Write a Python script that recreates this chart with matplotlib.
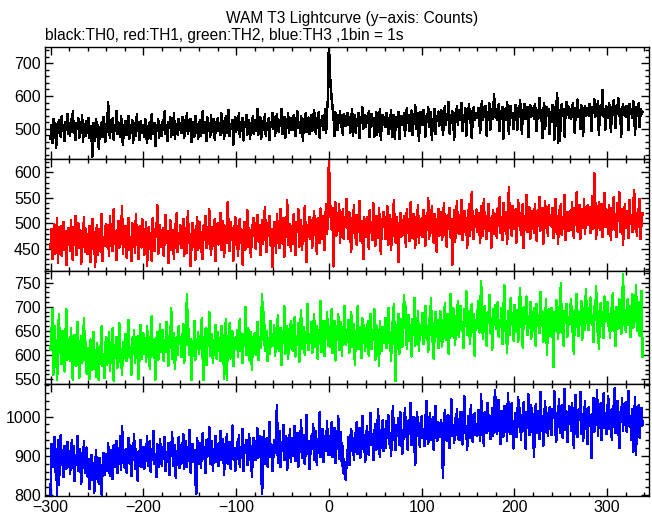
import matplotlib
matplotlib.use("Agg")
import matplotlib.pyplot as plt
import numpy as np
from matplotlib.ticker import MultipleLocator

plt.rcParams['font.family'] = ['Liberation Sans', 'DejaVu Sans']

# 1 s bins, t = -300 ... 338
time = np.arange(-300, 339)

# TH0 counts (black)
th0 = [
    470, 512, 455, 530, 495, 518, 440, 505, 488, 527, 501, 476, 538, 492, 509, 462, 521, 497, 545, 483,
    510, 478, 529, 495, 552, 487, 503, 466, 518, 499, 531, 472, 507, 489, 540, 461, 515, 502, 478, 524,
    486, 533, 471, 509, 492, 415, 517, 501, 464, 528, 495, 511, 437, 503, 482, 519, 474, 536, 498, 460,
    515, 489, 582, 506, 472, 525, 498, 531, 467, 510, 493, 554, 484, 519, 502, 476, 537, 495, 451, 512,
    496, 523, 481, 505, 539, 470, 512, 489, 527, 458, 501, 518, 479, 544, 493, 507, 465, 522, 498, 486,
    512, 475, 530, 492, 455, 508, 487, 521, 469, 543, 500, 483, 516, 447, 505, 494, 528, 472, 511, 489,
    479, 525, 497, 553, 484, 510, 463, 519, 501, 535, 476, 508, 490, 547, 468, 514, 499, 482, 529, 495,
    518, 487, 536, 502, 471, 525, 509, 548, 483, 512, 494, 530, 459, 507, 521, 476, 539, 498, 515, 468,
    495, 527, 478, 511, 552, 486, 505, 520, 462, 534, 499, 513, 474, 541, 490, 508, 529, 467, 502, 519,
    531, 494, 517, 480, 546, 505, 522, 468, 513, 539, 488, 509, 557, 477, 515, 498, 527, 451, 511, 536,
    489, 521, 503, 548, 476, 512, 495, 533, 464, 519, 507, 542, 481, 510, 526, 470, 515, 498, 537, 485,
    526, 493, 517, 559, 482, 511, 535, 470, 508, 524, 497, 543, 479, 515, 502, 531, 466, 520, 505, 548,
    498, 535, 478, 518, 544, 507, 490, 527, 513, 561, 484, 509, 536, 472, 521, 503, 547, 488, 516, 530,
    532, 495, 541, 509, 478, 524, 552, 501, 518, 487, 539, 512, 464, 529, 505, 546, 490, 521, 534, 483,
    505, 540, 492, 528, 557, 511, 484, 533, 519, 549, 473, 525, 508, 538, 496, 522, 560, 487, 560, 590,
    760, 672, 625, 590, 565, 538, 478, 549, 527, 496, 541, 519, 553, 505, 530, 482, 544, 521, 509, 536,
    548, 511, 535, 488, 526, 559, 478, 520, 541, 486, 529, 512, 547, 471, 533, 518, 565, 500, 524, 540,
    507, 538, 519, 552, 474, 528, 545, 510, 533, 476, 521, 549, 482, 537, 516, 560, 465, 529, 542, 512,
    536, 505, 548, 520, 483, 531, 514, 557, 476, 527, 542, 470, 518, 536, 507, 551, 468, 525, 539, 511,
    515, 547, 479, 533, 562, 519, 540, 492, 528, 555, 481, 537, 514, 573, 498, 530, 546, 462, 524, 551,
    543, 512, 558, 527, 476, 539, 521, 566, 505, 534, 549, 467, 530, 517, 561, 483, 538, 525, 552, 509,
    520, 556, 531, 481, 545, 568, 512, 539, 527, 581, 485, 542, 518, 553, 533, 466, 547, 524, 570, 511,
    557, 526, 549, 578, 494, 541, 530, 562, 478, 545, 536, 574, 519, 552, 472, 540, 565, 528, 548, 533,
    532, 563, 540, 486, 557, 583, 526, 549, 538, 569, 479, 551, 544, 577, 497, 546, 561, 531, 605, 537,
    560, 528, 547, 574, 493, 552, 536, 566, 470, 545, 558, 527, 581, 540, 484, 553, 569, 533, 548, 500,
    539, 572, 551, 496, 563, 535, 587, 546, 485, 557, 541, 576, 529, 550, 566, 474, 548, 571, 537, 555,
    562, 531, 575, 549, 492, 558, 540, 593, 534, 556, 471, 545, 578, 498, 552, 567, 538, 560, 483, 549,
    537, 571, 548, 466, 565, 552, 610, 455, 557, 462, 546, 575, 539, 560, 476, 553, 581, 541, 568, 534,
    561, 530, 556, 577, 543, 488, 564, 549, 589, 536, 558, 499, 572, 545, 478, 553, 570, 538, 562, 548,
    540, 575, 558, 492, 566, 547, 590, 535, 561, 552, 583, 480, 557, 571, 543, 618, 537, 560, 497, 568,
    556, 534, 578, 549, 489, 565, 541, 587, 552, 501, 571, 546, 592, 538, 560, 476, 555, 574, 542, 563,
    537, 569, 551, 495, 575, 546, 559, 532, 583, 549, 482, 566, 540, 557, 578, 505, 561, 544, 552,
]

# TH1 counts (red)
th1 = [
    452, 489, 430, 475, 498, 441, 466, 510, 423, 480, 457, 494, 437, 471, 503, 448, 485, 419, 462, 491,
    483, 446, 507, 461, 428, 492, 474, 515, 439, 468, 500, 453, 486, 421, 477, 461, 512, 444, 489, 466,
    440, 478, 495, 425, 463, 509, 451, 482, 416, 470, 497, 438, 460, 489, 445, 519, 427, 474, 456, 493,
    498, 455, 481, 437, 514, 469, 490, 446, 527, 461, 484, 429, 476, 505, 452, 488, 467, 533, 441, 479,
    462, 495, 433, 480, 511, 448, 473, 426, 501, 465, 487, 442, 519, 459, 475, 430, 494, 470, 453, 508,
    487, 439, 470, 502, 418, 465, 493, 451, 481, 427, 510, 463, 446, 488, 474, 535, 440, 469, 497, 454,
    458, 491, 437, 476, 517, 462, 484, 423, 470, 506, 449, 487, 465, 431, 498, 475, 520, 444, 481, 460,
    496, 452, 478, 509, 436, 471, 490, 443, 524, 463, 480, 417, 467, 501, 455, 486, 429, 474, 512, 448,
    467, 503, 445, 482, 430, 496, 475, 514, 452, 488, 461, 527, 470, 439, 493, 457, 479, 508, 426, 484,
    500, 459, 489, 521, 448, 477, 505, 434, 470, 495, 462, 541, 480, 446, 503, 468, 490, 427, 476, 513,
    458, 494, 436, 481, 509, 463, 487, 420, 472, 502, 449, 478, 525, 455, 490, 468, 434, 497, 475, 511,
    492, 451, 483, 517, 465, 497, 438, 479, 506, 460, 488, 531, 470, 444, 501, 476, 514, 457, 489, 415,
    466, 503, 487, 442, 519, 475, 495, 452, 528, 481, 461, 510, 435, 490, 473, 545, 458, 484, 499, 447,
    495, 460, 518, 476, 439, 502, 484, 527, 455, 480, 507, 448, 491, 466, 533, 474, 425, 497, 482, 512,
    470, 506, 453, 489, 524, 477, 498, 441, 511, 485, 462, 529, 493, 470, 515, 448, 501, 538, 480, 520,
    625, 552, 511, 488, 530, 416, 498, 541, 476, 515, 493, 538, 462, 507, 484, 527, 470, 512, 495, 548,
    501, 469, 522, 487, 445, 510, 493, 536, 472, 498, 459, 517, 483, 544, 466, 505, 490, 430, 513, 479,
    474, 512, 495, 451, 526, 482, 503, 468, 539, 490, 457, 515, 498, 471, 530, 486, 441, 508, 493, 522,
    509, 470, 497, 533, 459, 488, 517, 448, 501, 476, 546, 484, 463, 512, 495, 425, 490, 521, 474, 506,
    478, 515, 492, 455, 528, 484, 507, 466, 541, 497, 471, 519, 488, 453, 512, 494, 536, 462, 503, 482,
    510, 473, 526, 495, 457, 515, 487, 549, 469, 502, 481, 534, 491, 462, 519, 504, 445, 497, 528, 476,
    486, 522, 467, 504, 539, 478, 497, 455, 516, 491, 530, 473, 508, 420, 489, 525, 464, 500, 543, 482,
    517, 479, 505, 546, 468, 497, 524, 483, 511, 452, 499, 537, 475, 508, 561, 489, 470, 515, 494, 527,
    483, 521, 498, 462, 533, 507, 475, 548, 490, 515, 469, 502, 538, 486, 511, 453, 497, 526, 480, 519,
    506, 472, 529, 495, 551, 481, 512, 467, 540, 499, 485, 522, 460, 503, 570, 491, 517, 476, 534, 508,
    489, 527, 463, 511, 545, 496, 520, 478, 506, 538, 452, 515, 492, 556, 484, 509, 531, 470, 501, 524,
    518, 481, 537, 503, 466, 525, 495, 552, 486, 512, 529, 460, 507, 543, 491, 519, 475, 535, 498, 511,
    494, 530, 472, 508, 548, 483, 515, 461, 526, 500, 538, 477, 511, 490, 555, 468, 504, 522, 485, 517,
    523, 488, 541, 507, 472, 530, 498, 561, 484, 515, 536, 470, 509, 528, 492, 547, 479, 519, 503, 535,
    497, 532, 481, 519, 553, 490, 598, 545, 470, 524, 506, 541, 487, 516, 538, 474, 509, 560, 493, 527,
    515, 480, 536, 502, 467, 529, 494, 551, 488, 518, 473, 540, 506, 561, 483, 512, 528, 459, 504, 537,
    491, 524, 508, 472, 546, 499, 517, 483, 533, 565, 490, 511, 476, 528, 502, 548, 469, 507, 520,
]

# TH2 counts (green)
th2 = [
    612, 641, 695, 560, 660, 593, 630, 548, 612, 685, 605, 637, 581, 650, 617, 566, 628, 694, 590, 633,
    630, 587, 655, 601, 548, 624, 642, 578, 611, 668, 595, 553, 620, 639, 584, 604, 677, 590, 626, 561,
    589, 615, 550, 632, 597, 570, 648, 583, 610, 555, 625, 592, 548, 618, 603, 659, 577, 596, 552, 621,
    636, 580, 602, 648, 568, 614, 591, 655, 547, 620, 603, 637, 574, 598, 666, 585, 610, 559, 627, 595,
    601, 644, 588, 625, 672, 596, 617, 560, 634, 610, 651, 583, 622, 597, 640, 550, 613, 662, 592, 629,
    645, 603, 628, 586, 659, 615, 637, 571, 624, 680, 598, 633, 611, 549, 626, 648, 590, 619, 664, 607,
    610, 652, 589, 631, 606, 668, 622, 578, 640, 615, 697, 593, 627, 645, 572, 618, 636, 601, 659, 624,
    637, 596, 626, 663, 584, 615, 641, 727, 622, 654, 600, 632, 548, 618, 609, 671, 590, 627, 612, 647,
    603, 640, 617, 676, 595, 548, 612, 655, 579, 634, 620, 689, 598, 625, 643, 583, 630, 611, 662, 593,
    647, 609, 635, 588, 660, 621, 642, 551, 630, 674, 548, 638, 617, 665, 593, 627, 649, 577, 634, 612,
    612, 651, 596, 637, 675, 608, 628, 583, 644, 619, 699, 600, 633, 656, 589, 625, 647, 570, 638, 616,
    645, 601, 627, 669, 590, 636, 614, 658, 725, 631, 688, 608, 622, 649, 587, 634, 603, 671, 618, 641,
    620, 662, 598, 640, 617, 683, 609, 635, 656, 579, 642, 626, 701, 603, 637, 660, 592, 645, 614, 671,
    651, 609, 644, 678, 597, 638, 622, 666, 585, 641, 693, 612, 635, 657, 601, 648, 627, 706, 610, 643,
    625, 668, 604, 647, 685, 618, 639, 659, 592, 651, 630, 712, 607, 644, 671, 598, 655, 633, 689, 620,
    660, 617, 648, 695, 604, 641, 670, 589, 653, 632, 684, 611, 646, 668, 599, 657, 635, 702, 622, 650,
    628, 672, 605, 654, 689, 617, 641, 663, 580, 649, 633, 701, 612, 658, 640, 594, 676, 625, 662, 609,
    655, 618, 671, 599, 643, 685, 612, 650, 632, 694, 590, 661, 624, 647, 578, 670, 638, 609, 657, 626,
    633, 676, 614, 659, 698, 625, 647, 588, 668, 640, 706, 619, 546, 662, 629, 685, 603, 651, 674, 616,
    668, 724, 657, 701, 612, 646, 683, 630, 662, 597, 674, 641, 718, 620, 655, 636, 690, 608, 661, 643,
    641, 687, 623, 664, 702, 635, 659, 606, 676, 649, 718, 628, 667, 592, 655, 689, 638, 672, 614, 660,
    690, 644, 618, 673, 655, 708, 631, 662, 685, 603, 649, 727, 668, 640, 697, 659, 622, 681, 650, 712,
    637, 679, 702, 651, 668, 615, 694, 660, 733, 642, 675, 690, 624, 663, 706, 648, 685, 599, 672, 655,
    681, 712, 647, 665, 752, 690, 634, 672, 701, 656, 620, 688, 669, 724, 645, 677, 610, 695, 662, 703,
    654, 686, 709, 638, 672, 659, 697, 623, 680, 744, 651, 667, 605, 690, 673, 641, 718, 662, 684, 630,
    703, 648, 676, 692, 627, 681, 738, 659, 670, 615, 699, 664, 686, 721, 642, 675, 657, 710, 633, 689,
    650, 697, 672, 618, 706, 661, 683, 645, 730, 669, 690, 627, 678, 654, 715, 601, 673, 694, 640, 682,
    697, 660, 575, 688, 651, 714, 676, 633, 700, 667, 749, 645, 682, 620, 691, 672, 706, 638, 679, 662,
    684, 716, 648, 670, 602, 693, 659, 726, 675, 640, 689, 663, 711, 631, 680, 698, 652, 737, 667, 690,
    652, 695, 719, 666, 683, 627, 701, 673, 742, 648, 690, 612, 678, 707, 660, 688, 636, 721, 669, 699,
    710, 661, 684, 635, 697, 672, 729, 650, 681, 618, 700, 676, 655, 715, 689, 643, 674, 768, 662, 693,
    648, 689, 715, 662, 701, 637, 683, 726, 656, 692, 671, 744, 650, 687, 709, 640, 678, 733, 596,
]

# TH3 counts (blue)
th3 = [
    802, 930, 872, 905, 948, 860, 917, 801, 941, 826, 899, 953, 878, 912, 847, 925, 890, 868, 936, 902,
    911, 854, 897, 940, 869, 925, 836, 903, 880, 951, 862, 918, 893, 829, 907, 874, 938, 856, 899, 921,
    848, 892, 815, 870, 903, 838, 881, 806, 860, 914, 842, 876, 829, 895, 855, 802, 868, 907, 851, 884,
    905, 862, 932, 878, 850, 914, 889, 841, 927, 871, 897, 938, 856, 903, 881, 949, 864, 975, 922, 875,
    870, 916, 858, 902, 945, 881, 927, 849, 909, 891, 956, 866, 918, 884, 837, 912, 895, 941, 872, 904,
    923, 868, 910, 887, 951, 874, 902, 937, 859, 916, 893, 964, 880, 905, 846, 929, 898, 873, 942, 888,
    876, 921, 893, 948, 862, 910, 885, 933, 851, 917, 899, 960, 874, 906, 928, 843, 913, 890, 947, 869,
    927, 881, 914, 955, 868, 903, 938, 872, 919, 892, 966, 857, 908, 930, 884, 915, 845, 803, 944, 879,
    887, 932, 870, 911, 958, 893, 921, 856, 940, 898, 917, 973, 879, 906, 938, 862, 915, 890, 951, 884,
    929, 874, 918, 963, 889, 910, 942, 851, 923, 897, 956, 880, 914, 935, 868, 907, 977, 893, 920, 861,
    886, 935, 901, 952, 873, 919, 894, 968, 862, 927, 909, 941, 877, 916, 955, 890, 924, 848, 912, 946,
    935, 889, 926, 970, 896, 918, 950, 868, 804, 904, 962, 881, 920, 945, 873, 914, 986, 897, 929, 861,
    897, 940, 909, 953, 1030, 883, 924, 962, 871, 936, 912, 978, 890, 928, 949, 864, 921, 902, 967, 885,
    944, 899, 931, 976, 887, 925, 958, 873, 939, 911, 990, 896, 930, 952, 879, 918, 1004, 905, 937, 866,
    906, 949, 918, 982, 891, 934, 962, 877, 943, 920, 1011, 898, 936, 969, 885, 927, 951, 912, 988, 903,
    951, 904, 939, 985, 897, 930, 970, 882, 946, 919, 1002, 893, 935, 960, 874, 926, 855, 872, 840, 880,
    901, 948, 877, 935, 968, 912, 944, 889, 957, 923, 986, 905, 940, 971, 896, 930, 1002, 917, 952, 884,
    918, 975, 934, 902, 961, 1009, 927, 948, 889, 956, 981, 915, 944, 1018, 931, 897, 966, 942, 990, 912,
    967, 921, 988, 946, 1003, 932, 958, 901, 972, 1026, 940, 963, 915, 979, 951, 996, 927, 1011, 944, 905,
    936, 982, 1021, 949, 970, 915, 991, 962, 1034, 928, 955, 999, 943, 877, 968, 1012, 951, 984, 923, 973,
    1001, 947, 969, 925, 986, 1040, 955, 932, 978, 1009, 941, 962, 998, 916, 971, 1027, 953, 939, 985, 964,
    948, 991, 927, 845, 975, 1016, 959, 939, 1003, 968, 920, 985, 1044, 952, 977, 934, 996, 961, 1020, 943,
    987, 940, 1012, 966, 929, 994, 1051, 958, 975, 916, 1002, 983, 947, 1029, 970, 936, 991, 1008, 954, 980,
    952, 1016, 983, 939, 1057, 970, 998, 926, 1011, 987, 958, 1035, 965, 1003, 943, 979, 1021, 952, 994, 1068,
    1003, 955, 991, 1042, 968, 930, 1014, 985, 949, 1027, 974, 1006, 938, 1060, 981, 957, 995, 1033, 962, 919,
    967, 1010, 948, 993, 1049, 975, 1022, 941, 1000, 964, 1037, 985, 919, 1012, 971, 1056, 953, 996, 1028, 960,
    1006, 897, 977, 1031, 958, 1015, 989, 943, 1062, 970, 1001, 925, 984, 1040, 962, 1009, 950, 993, 1024, 968,
    953, 1019, 996, 1064, 970, 937, 1008, 983, 1044, 958, 1000, 1029, 946, 990, 1071, 966, 1013, 935, 997, 1026,
    1011, 964, 1035, 987, 921, 1002, 1055, 974, 948, 1018, 992, 1063, 957, 1006, 939, 982, 1040, 969, 1001, 930,
    1024, 976, 1003, 895, 985, 1047, 962, 1010, 993, 1068, 951, 1016, 987, 1034, 940, 998, 1059, 972, 1009, 955,
    1001, 1053, 968, 1017, 984, 941, 1026, 995, 1072, 958, 1008, 1039, 973, 920, 1012, 987, 1048, 963, 1021, 996,
    1037, 962, 1004, 1066, 975, 993, 940, 1019, 910, 985, 1050, 902, 1011, 968, 1030, 947, 995, 1022, 978,
]

series = [th0, th1, th2, th3]
colors = ["black", "#ff0000", "#00ff00", "#0000ff"]
ylims = [(407, 750), (407, 626), (540, 774), (798, 1083)]
major_step = [100, 50, 50, 100]
minor_step = [20, 10, 10, 20]

W, H = 652, 515
fig = plt.figure(figsize=(W / 100, H / 100), dpi=100)

# panel edges in pixels (top, bottom)
edges = [(47, 159), (159, 271), (271, 384), (384, 496)]
left_px, right_px = 45, 649

for i, (top, bot) in enumerate(edges):
    ax = fig.add_axes([left_px / W, 1 - bot / H, (right_px - left_px) / W, (bot - top) / H])
    ax.plot(time, series[i], color=colors[i], lw=1.1, antialiased=False)
    ax.set_xlim(-306, 345)
    ax.set_ylim(*ylims[i])
    ax.xaxis.set_major_locator(MultipleLocator(100))
    ax.xaxis.set_minor_locator(MultipleLocator(20))
    ax.yaxis.set_major_locator(MultipleLocator(major_step[i]))
    ax.yaxis.set_minor_locator(MultipleLocator(minor_step[i]))
    ax.tick_params(which='both', direction='in', top=True, right=True,
                   labelsize=11.5, width=1, colors='black')
    ax.tick_params(which='major', length=6, pad=3)
    ax.tick_params(which='minor', length=3)
    if i < 3:
        ax.tick_params(labelbottom=False)
    for sp in ax.spines.values():
        sp.set_linewidth(1)

fig.text(352 / W, 1 - 23 / H, "WAM T3 Lightcurve (y\u2212axis: Counts)",
         ha='center', va='baseline', fontsize=11.2)
fig.text(45 / W, 1 - 40 / H, "black:TH0, red:TH1, green:TH2, blue:TH3 ,1bin = 1s",
         ha='left', va='baseline', fontsize=11.2)

fig.savefig("out.png", dpi=100)
